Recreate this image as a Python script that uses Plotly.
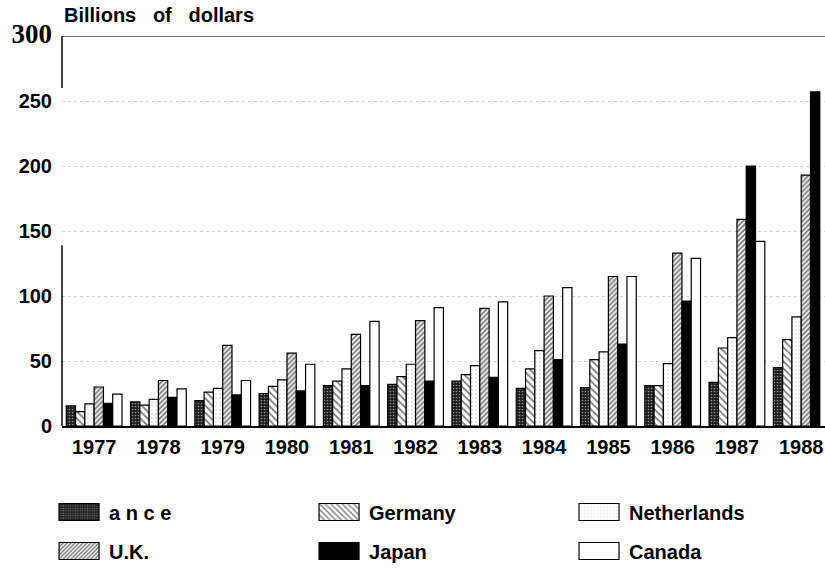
import plotly.graph_objects as go

years = ["1977", "1978", "1979", "1980", "1981", "1982",
         "1983", "1984", "1985", "1986", "1987", "1988"]
france = [15.5, 18.5, 19.5, 25, 31, 32, 34.5, 29, 29.5, 31, 33.5, 45]
germany = [11, 16, 26, 30.5, 34.5, 38, 39.5, 44, 51, 31, 60, 66.5]
netherlands = [17, 20.5, 29, 35.5, 44, 47.5, 46.5, 58, 57, 48, 68, 84]
uk = [30, 35, 62, 56, 70.5, 81, 90.5, 100, 115, 133, 159, 193]
japan = [17.5, 22, 24, 27, 31, 34.5, 37.5, 51, 63, 96, 200, 257]
canada = [24.5, 28.5, 35, 47.5, 80.5, 91, 95.5, 106.5, 115, 129, 142, None]

ytick_vals = [0, 50, 100, 150, 200, 250, 300]
ytick_text = ["0", "50", "100", "150", "200", "250",
              '<span style="font-family:Liberation Serif;font-size:27px">300</span>']

SANS = "Liberation Sans"

series = [
    ("a n c e", france, dict(shape=".", bgcolor="#1c1c1c", fgcolor="white", size=3, solidity=0.25), "legend"),
    ("Germany", germany, dict(shape="\\", bgcolor="white", fgcolor="black", size=5, solidity=0.35), "legend"),
    ("Netherlands", netherlands, dict(shape=".", bgcolor="white", fgcolor="#9a9a9a", size=4, solidity=0.12), "legend"),
    ("U.K.", uk, dict(shape="/", bgcolor="white", fgcolor="black", size=3.5, solidity=0.55), "legend2"),
    ("Japan", japan, None, "legend2"),
    ("Canada", canada, None, "legend2"),
]
colors = {"Japan": "black", "Canada": "white"}

fig = go.Figure()
for name, vals, pat, leg in series:
    marker = dict(line=dict(color="black", width=1.2))
    if pat is not None:
        marker["pattern"] = pat
        marker["color"] = pat["bgcolor"]
    else:
        marker["color"] = colors[name]
    fig.add_trace(go.Bar(x=years, y=vals, name=name, marker=marker, legend=leg))

legend_common = dict(
    orientation="h", xref="paper", yref="paper", xanchor="left", yanchor="middle",
    entrywidth=195, entrywidthmode="pixels", itemwidth=50,
    font=dict(family=SANS, size=20, color="black", weight="bold"),
    bgcolor="rgba(0,0,0,0)", borderwidth=0, traceorder="normal",
    itemclick=False, itemdoubleclick=False,
)

fig.update_layout(
    width=825, height=572,
    margin=dict(l=62, r=0, t=36, b=146, autoexpand=False),
    paper_bgcolor="white", plot_bgcolor="white",
    barmode="group", bargap=0.133, bargroupgap=0,
    showlegend=True,
    legend=dict(x=-0.017, y=-0.2205, **legend_common),
    legend2=dict(x=-0.017, y=-0.3205, **legend_common),
    xaxis=dict(
        type="category", range=[-0.5, 11.37],
        showline=True, linecolor="black", linewidth=1.5,
        ticks="", showgrid=False, zeroline=False,
        tickfont=dict(family=SANS, size=20, color="black", weight="bold"),
        ticklabelstandoff=2,
    ),
    yaxis=dict(
        range=[0, 300], tickvals=ytick_vals, ticktext=ytick_text,
        showline=False, ticks="", zeroline=False,
        showgrid=True, gridcolor="#d2d2d2", griddash="dot", gridwidth=1,
        tickfont=dict(family=SANS, size=20, color="black", weight="bold"),
        ticklabelstandoff=9,
    ),
    shapes=[
        dict(type="line", xref="paper", yref="y", x0=0, x1=1, y0=300, y1=300,
             line=dict(color="#444444", width=1.5)),
        dict(type="line", xref="paper", yref="y", x0=0, x1=0, y0=300, y1=260,
             line=dict(color="black", width=1.5)),
        dict(type="line", xref="paper", yref="y", x0=0, x1=0, y0=139, y1=0,
             line=dict(color="black", width=1.5)),
    ],
    annotations=[
        dict(text="Billions&nbsp;&nbsp;&nbsp;of&nbsp;&nbsp;&nbsp;dollars",
             xref="paper", yref="paper", x=0, y=1.0538, xanchor="left", yanchor="middle",
             showarrow=False, font=dict(family=SANS, size=20, color="black", weight="bold")),
    ],
)

post = """
document.documentElement.style.margin = '0';
document.documentElement.style.overflow = 'hidden';
document.body.style.margin = '0';
document.body.style.overflow = 'hidden';
var gd = document.getElementById('{plot_id}');
gd.querySelectorAll('.legendpoints path').forEach(function(p){
  p.setAttribute('d', 'M20,8.5H-20V-8.5H20Z');
});
"""

fig.write_html("out.html", post_script=post, config={"displayModeBar": False})
